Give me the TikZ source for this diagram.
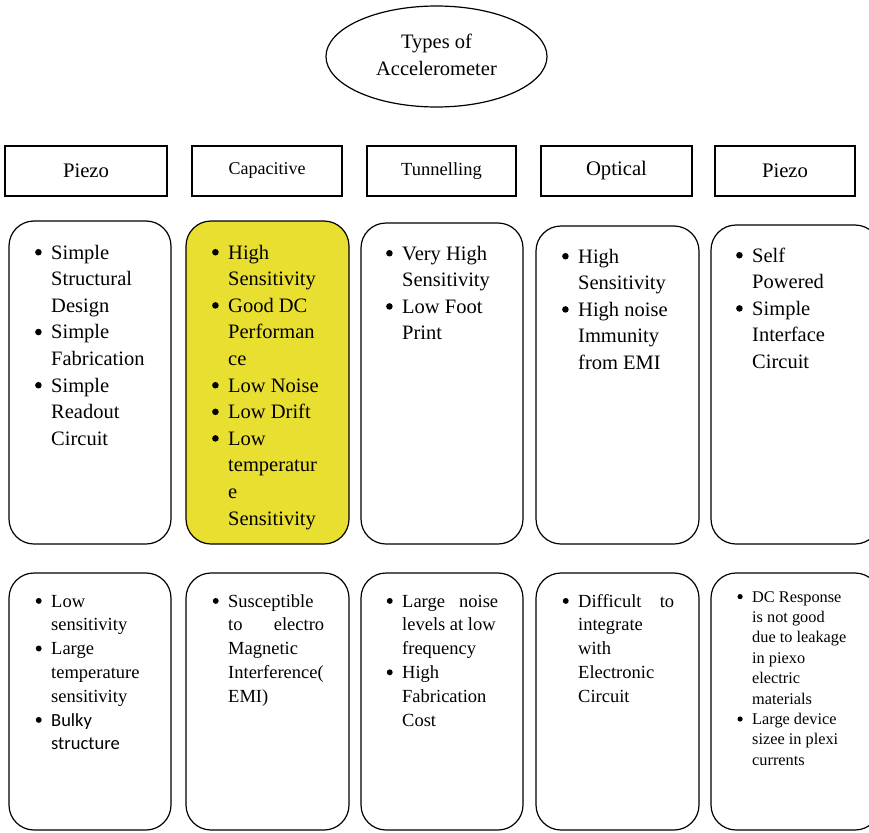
\documentclass[tikz,border=0pt]{standalone}
\usepackage{fontspec}
\setmainfont{Liberation Serif}
\newfontfamily\carlito{Carlito}
\usetikzlibrary{shapes.geometric}
\definecolor{capyellow}{HTML}{E8DF30}
\newcommand{\bul}{\leavevmode\llap{\tikz[baseline=0pt]\fill (0pt,0.33em) circle (0.16em);\hspace{9.5pt}}}
\newcommand{\plist}[1]{\parbox[t]{140pt}{\raggedright #1}}

\begin{document}
\begin{tikzpicture}[
    x=1pt, y=-1pt,
    kind/.style={
        rectangle,
        draw,
        line width=1.2pt,
        minimum height=50pt,
        inner sep=0pt,
        font=\fontsize{20.7}{24}\selectfont
    },
    card/.style={
        rectangle,
        rounded corners=25pt,
        draw,
        line width=1.2pt,
        inner sep=0pt
    },
    points/.style={
        anchor=base west,
        inner sep=0pt,
        font=\fontsize{20.5}{26.6}\selectfont
    },
    limits/.style={
        anchor=base west,
        inner sep=0pt,
        font=\fontsize{18.5}{23.8}\selectfont
    }
]
\useasboundingbox (0,0) rectangle (869,832);

\node[ellipse, draw, line width=1.2pt, minimum width=221pt, minimum height=101pt,
      inner sep=0pt, font=\fontsize{20.5}{27}\selectfont]
    (types) at (436.5,56.5)
    {\raisebox{2.5pt}{\begin{tabular}{@{}c@{}}Types of\\Accelerometer\end{tabular}}};

\node[kind, minimum width=162pt] (piezoA) at (86,171) {Piezo};
\node[kind, minimum width=150pt, font=\fontsize{18}{22}\selectfont] (capac) at (267,171)
    {\raisebox{4pt}{Capacitive}};
\node[kind, minimum width=149pt, font=\fontsize{18.5}{22}\selectfont] (tunnel) at (441.5,171)
    {\raisebox{4pt}{Tunnelling}};
\node[kind, minimum width=151pt] (optic) at (616.5,171) {Optical};
\node[kind, minimum width=140pt] (piezoB) at (785,171) {Piezo};

\node[card, minimum width=162pt, minimum height=323pt] (proA) at (90,382.5) {};
\node[card, minimum width=163pt, minimum height=323pt, fill=capyellow] (proB) at (267.5,382.5) {};
\node[card, minimum width=162pt, minimum height=321pt] (proC) at (442,383.5) {};
\node[card, minimum width=163pt, minimum height=318pt] (proD) at (617.5,385) {};
\node[card, minimum width=169pt, minimum height=319pt] (proE) at (795.5,384.5) {};

\node[card, minimum width=162pt, minimum height=257pt] (conA) at (90,701.5) {};
\node[card, minimum width=163pt, minimum height=257pt] (conB) at (267.5,701.5) {};
\node[card, minimum width=162pt, minimum height=257pt] (conC) at (442,701.5) {};
\node[card, minimum width=163pt, minimum height=257pt] (conD) at (617.5,701.5) {};
\node[card, minimum width=169pt, minimum height=257pt] (conE) at (795.5,701.5) {};

\node[points] (proAtxt) at (51,259) {\plist{%
    \bul Simple\\Structural\\Design\\
    \bul Simple\\Fabrication\\
    \bul Simple\\Readout\\Circuit}};
\node[points] (proBtxt) at (228,259) {\plist{%
    \bul High\\Sensitivity\\
    \bul Good DC\\Performan\\ce\\
    \bul Low Noise\\
    \bul Low Drift\\
    \bul Low\\temperatur\\e\\Sensitivity}};
\node[points] (proCtxt) at (402,260) {\plist{%
    \bul Very High\\Sensitivity\\
    \bul Low Foot\\Print}};
\node[points] (proDtxt) at (578,263) {\plist{%
    \bul High\\Sensitivity\\
    \bul High noise\\Immunity\\from EMI}};
\node[points] (proEtxt) at (752,262) {\plist{%
    \bul Self\\Powered\\
    \bul Simple\\Interface\\Circuit}};

\node[limits] (conAtxt) at (51,607) {\plist{%
    \bul Low\\sensitivity\\
    \bul Large\\temperature\\sensitivity\\
    \bul\carlito Bulky\\structure}};
\node[limits] (conBtxt) at (228,607) {\plist{%
    \bul Susceptible\\\makebox[96pt][s]{to electro}\\Magnetic\\Interference(\\EMI)}};
\node[limits] (conCtxt) at (402,607) {\plist{%
    \bul\makebox[96pt][s]{Large noise}\\levels at low\\frequency\\
    \bul High\\Fabrication\\Cost}};
\node[limits] (conDtxt) at (578,607) {\plist{%
    \bul\makebox[96pt][s]{Difficult to}\\integrate\\with\\Electronic\\Circuit}};
\node[limits, font=\fontsize{16.3}{20.4}\selectfont] (conEtxt) at (752,602) {\plist{%
    \bul DC Response\\is not good\\due to leakage\\in piexo\\electric\\materials\\
    \bul Large device\\sizee in plexi\\currents}};

\end{tikzpicture}
\end{document}
